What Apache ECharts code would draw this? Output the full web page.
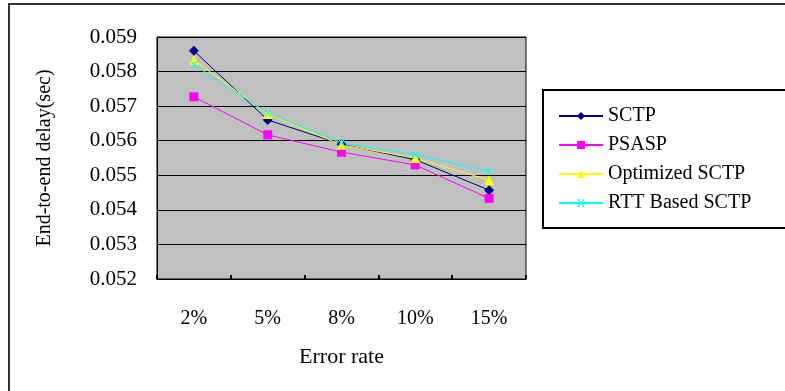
<!DOCTYPE html>
<html><head><meta charset="utf-8">
<script src="https://cdn.jsdelivr.net/npm/echarts@6/dist/echarts.min.js"></script>
<style>html,body{margin:0;padding:0;background:#fff}#c{width:785px;height:391px}</style>
</head><body><div id="c"></div>
<script>
var categories = ['2%', '5%', '8%', '10%', '15%'];
var sctp = [0.0586, 0.0566, 0.0559, 0.05545, 0.05457];
var psasp = [0.05727, 0.05617, 0.05567, 0.0553, 0.05433];
var optimized = [0.05833, 0.05677, 0.05588, 0.0555, 0.05486];
var rttBased = [0.0582, 0.0568, 0.05594, 0.0556, 0.05512];
var yTicks = { min: 0.052, max: 0.059, step: 0.001 };

var chart = echarts.init(document.getElementById('c'), null, { renderer: 'canvas' });
var font = '"Liberation Serif", "DejaVu Serif", serif';
function mk(name, data, color, symbol, size) {
  return {
    name: name, type: 'line', data: data,
    symbol: symbol, symbolSize: size,
    lineStyle: { color: color, width: 1 },
    itemStyle: { color: color },
    emphasis: { disabled: true },
    animation: false
  };
}
chart.setOption({
  animation: false,
  textStyle: { fontFamily: font },
  graphic: [
    { type: 'rect', shape: { x: 9, y: 4, width: 800, height: 420 }, style: { fill: 'none', stroke: '#333', lineWidth: 2 }, z: 0 },
    { type: 'rect', shape: { x: 543, y: 90, width: 300, height: 138 }, style: { fill: '#fff', stroke: '#000', lineWidth: 2 }, z: 1 }
  ],
  grid: { left: 157, top: 37, right: 259, bottom: 112, show: true, backgroundColor: '#c0c0c0', borderColor: '#000', borderWidth: 1 },
  legend: {
    orient: 'vertical', left: 553, top: 101, itemGap: 9, itemWidth: 44, itemHeight: 10,
    textStyle: { fontFamily: font, fontSize: 20, color: '#000' },
    z: 5
  },
  xAxis: {
    type: 'category', data: categories, boundaryGap: true,
    name: 'Error rate', nameLocation: 'middle', nameGap: 67,
    nameTextStyle: { fontFamily: font, fontSize: 22, color: '#000' },
    axisLine: { lineStyle: { color: '#000', width: 1 } },
    axisTick: { show: true, length: 4, inside: true, lineStyle: { color: '#000', width: 2 } },
    axisLabel: { margin: 30, fontFamily: font, fontSize: 20, color: '#000' }
  },
  yAxis: {
    type: 'value', min: yTicks.min, max: yTicks.max, interval: yTicks.step,
    name: 'End-to-end delay(sec)', nameLocation: 'middle', nameGap: 102, nameRotate: 90,
    nameTextStyle: { fontFamily: font, fontSize: 20, color: '#000' },
    axisLine: { show: true, lineStyle: { color: '#000' } },
    axisTick: { show: false },
    splitLine: { show: true, lineStyle: { color: '#000', width: 1 } },
    axisLabel: { margin: 20, fontFamily: font, fontSize: 21, color: '#000', formatter: function (v) { return v.toFixed(3); } }
  },
  series: [
    mk('SCTP', sctp, '#000080', 'diamond', 10),
    mk('PSASP', psasp, '#ff00ff', 'rect', 9),
    mk('Optimized SCTP', optimized, '#ffff00', 'triangle', 10),
    mk('RTT Based SCTP', rttBased, '#00ffff', 'path://M0,0L2,0L5,3L8,0L10,0L6,4L10,8L8,8L5,5L2,8L0,8L4,4Z', 7)
  ]
});
</script></body></html>
